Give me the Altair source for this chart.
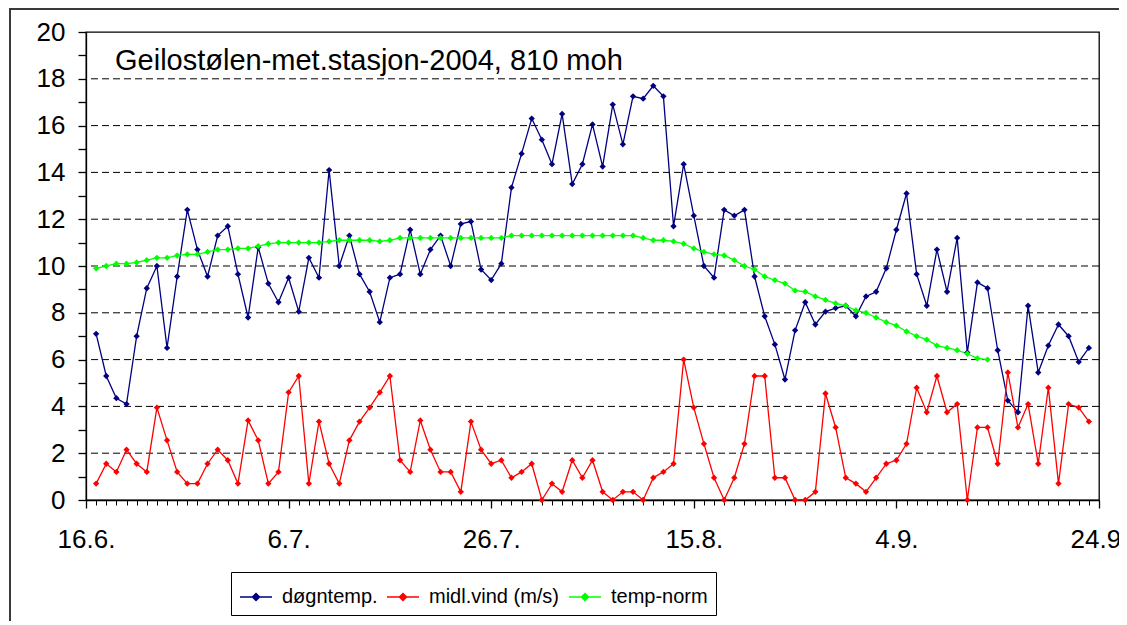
import json
import altair as alt
import pandas as pd

FONT = "Arial, Liberation Sans, sans-serif"

title_text = "Geilostølen-met.stasjon-2004, 810 moh"
series_names = ["døgntemp.", "midl.vind (m/s)", "temp-norm"]
series_colors = ["#000080", "#FF0000", "#00FF00"]

x_tick_values = [0, 20, 40, 60, 80, 100]
x_tick_labels = ["16.6.", "6.7.", "26.7.", "15.8.", "4.9.", "24.9."]
x_minor_ticks = list(range(0, 101))
y_ticks = list(range(0, 21))
y_grid = [2, 4, 6, 8, 10, 12, 14, 16, 18]

# day number counted from 16.6.2004
days_temp = list(range(1, 100))
temp = [7.1, 5.3, 4.35, 4.1, 7.0, 9.05, 10.0, 6.5, 9.55, 12.4,
        10.7, 9.55, 11.3, 11.7, 9.65, 7.8, 10.8, 9.25, 8.45, 9.5,
        8.05, 10.35, 9.5, 14.1, 10.0, 11.3, 9.65, 8.9, 7.6, 9.5,
        9.65, 11.55, 9.65, 10.7, 11.3, 10.0, 11.8, 11.9, 9.85, 9.4,
        10.1, 13.35, 14.8, 16.3, 15.4, 14.35, 16.5, 13.5, 14.35, 16.05,
        14.25, 16.9, 15.2, 17.25, 17.15, 17.7, 17.25, 11.7, 14.35, 12.15,
        10.0, 9.5, 12.4, 12.15, 12.4, 9.55, 7.85, 6.65, 5.15, 7.25,
        8.45, 7.5, 8.05, 8.2, 8.3, 7.85, 8.7, 8.9, 9.9, 11.55,
        13.1, 9.65, 8.3, 10.7, 8.9, 11.2, 6.3, 9.3, 9.05, 6.4,
        4.25, 3.75, 8.3, 5.45, 6.6, 7.5, 7.0, 5.9, 6.5]

wind = [0.7, 1.55, 1.2, 2.15, 1.55, 1.2, 3.95, 2.55, 1.2, 0.7,
        0.7, 1.55, 2.15, 1.7, 0.7, 3.4, 2.55, 0.7, 1.2, 4.6,
        5.3, 0.7, 3.35, 1.55, 0.7, 2.55, 3.35, 3.95, 4.6, 5.3,
        1.7, 1.2, 3.4, 2.15, 1.2, 1.2, 0.35, 3.35, 2.15, 1.55,
        1.7, 0.95, 1.2, 1.55, 0.0, 0.7, 0.35, 1.7, 0.95, 1.7,
        0.35, 0.0, 0.35, 0.35, 0.0, 0.95, 1.2, 1.55, 6.0, 3.95,
        2.4, 0.95, 0.0, 0.95, 2.4, 5.3, 5.3, 0.95, 0.95, 0.0,
        0.0, 0.35, 4.55, 3.1, 0.95, 0.7, 0.35, 0.95, 1.55, 1.7,
        2.4, 4.8, 3.75, 5.3, 3.75, 4.1, 0.0, 3.1, 3.1, 1.55,
        5.45, 3.1, 4.1, 1.55, 4.8, 0.7, 4.1, 3.95, 3.35]

days_norm = list(range(1, 90))
norm = [9.9, 10.0, 10.1, 10.1, 10.15, 10.25, 10.35, 10.35, 10.45, 10.5,
        10.5, 10.6, 10.7, 10.7, 10.75, 10.75, 10.85, 10.95, 11.0, 11.0,
        11.0, 11.0, 11.0, 11.05, 11.1, 11.1, 11.1, 11.1, 11.05, 11.1,
        11.2, 11.2, 11.2, 11.2, 11.2, 11.2, 11.2, 11.2, 11.2, 11.2,
        11.2, 11.3, 11.3, 11.3, 11.3, 11.3, 11.3, 11.3, 11.3, 11.3,
        11.3, 11.3, 11.3, 11.3, 11.2, 11.1, 11.1, 11.05, 10.95, 10.75,
        10.6, 10.5, 10.45, 10.25, 10.0, 9.85, 9.55, 9.4, 9.25, 8.95,
        8.9, 8.7, 8.55, 8.4, 8.3, 8.1, 8.0, 7.8, 7.6, 7.45,
        7.2, 7.0, 6.85, 6.6, 6.5, 6.4, 6.25, 6.05, 6.0]

rows = []
for d, v in zip(days_temp, temp):
    rows.append({"day": d, "value": v, "series": series_names[0]})
for d, v in zip(days_temp, wind):
    rows.append({"day": d, "value": v, "series": series_names[1]})
for d, v in zip(days_norm, norm):
    rows.append({"day": d, "value": v, "series": series_names[2]})
df = pd.DataFrame(rows)

W, H = 1013, 468
xscale = alt.Scale(domain=[0, 100], nice=False, zero=False)
yscale = alt.Scale(domain=[0, 20], nice=False, zero=False)

label_expr = json.dumps(x_tick_labels, ensure_ascii=False) + "[round(datum.value / 20)]"

legend_symbol = ("M-1,0H1M0,-0.22L0.22,0L0,0.22L-0.22,0Z"
                 "M0,-0.12L0.12,0L0,0.12L-0.12,0Z")

frame = alt.Chart(pd.DataFrame({"k": [0]})).mark_rect(
    fillOpacity=0, stroke="#3a3a3a", strokeWidth=2
).encode(
    x=alt.value(-76), x2=alt.value(1300), y=alt.value(-23), y2=alt.value(900)
)

grid = alt.Chart(pd.DataFrame({"g": y_grid})).mark_rule(
    color="black", strokeWidth=1, strokeDash=[7, 4]
).encode(
    y=alt.Y("g:Q", scale=yscale, axis=None)
)

minor = alt.Chart(pd.DataFrame({"day": x_minor_ticks})).mark_point(opacity=0).encode(
    x=alt.X("day:Q", scale=xscale,
            axis=alt.Axis(values=x_minor_ticks, labels=False, tickSize=5, domain=False,
                          grid=False, title=None, orient="bottom", tickColor="black",
                          tickWidth=1))
)

lines = alt.Chart(df).mark_line(
    strokeWidth=1.3,
    point=alt.OverlayMarkDef(shape="diamond", size=40, filled=True)
).encode(
    x=alt.X("day:Q", scale=xscale,
            axis=alt.Axis(values=x_tick_values, labelExpr=label_expr, tickSize=8,
                          grid=False, title=None, orient="bottom", labelFlush=False,
                          labelOverlap=False, labelBound=False, labelFontSize=26,
                          labelFont=FONT, labelColor="black", labelPadding=18,
                          domainColor="black", domainWidth=1.3, tickColor="black",
                          tickWidth=1.3)),
    y=alt.Y("value:Q", scale=yscale,
            axis=alt.Axis(values=y_ticks, orient="left",
                          labelExpr="datum.value % 2 == 0 ? datum.label : ''",
                          tickSize=8, grid=False, title=None, labelOverlap=False,
                          labelFlush=False, labelBound=False,
                          labelFontSize=26, labelFont=FONT, labelColor="black",
                          labelPadding=13, domainColor="black", domainWidth=1.3,
                          tickColor="black", tickWidth=1.3)),
    color=alt.Color("series:N",
                    scale=alt.Scale(domain=series_names, range=series_colors),
                    legend=alt.Legend(title=None, orient="none", legendX=145, legendY=540,
                                      direction="horizontal", columns=3,
                                      symbolType=legend_symbol, symbolSize=1024,
                                      symbolStrokeWidth=1.5, labelFontSize=20,
                                      labelFont=FONT, labelColor="black", labelOffset=9,
                                      columnPadding=6, padding=8, strokeColor="black",
                                      fillColor="white")),
)

chart = alt.layer(frame, grid, minor, lines).resolve_scale(
    x="independent", y="independent"
).resolve_axis(
    x="independent", y="independent"
).properties(
    width=W, height=H,
    title=alt.TitleParams(text=title_text, anchor="start", frame="group", dx=29, dy=91,
                          offset=0, baseline="alphabetic", fontSize=29, font=FONT,
                          fontWeight="normal", color="black"),
    autosize=alt.AutoSizeParams(type="none"),
    padding={"left": 78, "top": 24, "right": 20, "bottom": 121},
).configure(
    background="white",
    view=alt.ViewConfig(stroke="black", strokeWidth=1.3),
)

chart.save("out.html", embed_options={"renderer": "svg", "actions": False})
